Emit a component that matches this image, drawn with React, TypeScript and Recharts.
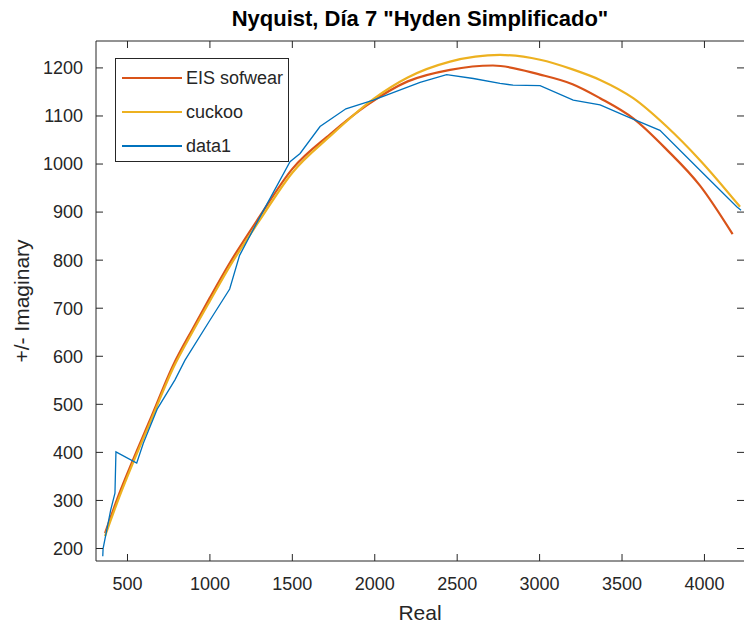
import React from 'react';
import { LineChart, Line, XAxis, YAxis, ReferenceLine, Legend } from 'recharts';

// Fitted model from the EIS software
const EIS_REAL = [364, 450, 527, 637, 778, 900, 1000, 1122, 1300, 1500, 1729, 1951, 2200, 2457, 2717, 3003, 3200, 3367, 3568, 3771, 3973, 4171];
const EIS_IMAG = [232, 314, 379, 468, 582, 660, 722, 795, 890, 990, 1062, 1122, 1172, 1196, 1205, 1186, 1166, 1137, 1095, 1030, 955, 854];

// Cuckoo-search fit
const CUCKOO_REAL = [364, 450, 527, 637, 778, 900, 1000, 1122, 1300, 1500, 1729, 1991, 2200, 2457, 2760, 3003, 3200, 3367, 3568, 3771, 3973, 4216];
const CUCKOO_IMAG = [226, 307, 373, 462, 576, 654, 715, 788, 882, 982, 1058, 1135, 1180, 1213, 1227, 1217, 1197, 1175, 1137, 1078, 1008, 911];

// Measured spectrum
const DATA1_REAL = [350, 352, 398, 424, 430, 556, 596, 680, 788, 849, 1000, 1120, 1180, 1304, 1486, 1547, 1668, 1825, 1991, 2275, 2436, 2598, 2760, 2839, 3003, 3204, 3367, 3528, 3730, 3973, 4196, 4222];
const DATA1_IMAG = [184, 200, 280, 315, 401, 378, 419, 490, 551, 592, 675, 740, 810, 890, 1005, 1022, 1078, 1115, 1133, 1170, 1186, 1178, 1168, 1164, 1163, 1133, 1123, 1099, 1070, 987, 911, 904];

const X_TICKS = [500, 1000, 1500, 2000, 2500, 3000, 3500, 4000];
const Y_TICKS = [200, 300, 400, 500, 600, 700, 800, 900, 1000, 1100, 1200];
const X_DOMAIN: [number, number] = [309, 4240];
const Y_DOMAIN: [number, number] = [174, 1256];

const zip = (xs: number[], ys: number[]) => xs.map((x, i) => ({ x, y: ys[i] }));

const SERIES = [
  { name: 'EIS sofwear', color: '#D95319', width: 2.2, data: zip(EIS_REAL, EIS_IMAG), type: 'monotone' },
  { name: 'cuckoo', color: '#EDB120', width: 2.2, data: zip(CUCKOO_REAL, CUCKOO_IMAG), type: 'monotone' },
  { name: 'data1', color: '#0072BD', width: 1.3, data: zip(DATA1_REAL, DATA1_IMAG), type: 'linear' },
];

const W = 744;
const H = 625;
const PLOT = { left: 96, top: 41, right: 744, bottom: 561 };
const AXIS = '#262626';
const FONT = '"Liberation Sans", Arial, Helvetica, sans-serif';
const TICK_LEN = 7;
const X_GAP = 16;
const Y_GAP = 13;

function XTick(props: any) {
  const { x, y, payload } = props;
  const axisY = y - X_GAP;
  return (
    <g>
      <line x1={x} x2={x} y1={axisY} y2={axisY - TICK_LEN} stroke={AXIS} strokeWidth={1} />
      <line x1={x} x2={x} y1={PLOT.top} y2={PLOT.top + TICK_LEN} stroke={AXIS} strokeWidth={1} />
      <text x={x} y={y} dy="0.71em" textAnchor="middle" fill={AXIS} fontSize={18} fontFamily={FONT}>
        {payload.value}
      </text>
    </g>
  );
}

function YTick(props: any) {
  const { x, y, payload } = props;
  const axisX = x + Y_GAP;
  return (
    <g>
      <line x1={axisX} x2={axisX + TICK_LEN} y1={y} y2={y} stroke={AXIS} strokeWidth={1} />
      <line x1={PLOT.right - TICK_LEN} x2={PLOT.right} y1={y} y2={y} stroke={AXIS} strokeWidth={1} />
      <text x={x} y={y} dy="0.355em" textAnchor="end" fill={AXIS} fontSize={18} fontFamily={FONT}>
        {payload.value}
      </text>
    </g>
  );
}

function LegendBox(props: any) {
  const payload = props.payload || [];
  return (
    <div
      style={{
        width: 174,
        height: 104,
        border: `1px solid ${AXIS}`,
        background: '#fff',
        boxSizing: 'border-box',
        position: 'relative',
        fontFamily: FONT,
        fontSize: 18,
        color: AXIS,
      }}
    >
      {payload.map((p: any, i: number) => (
        <div key={p.value} style={{ position: 'absolute', left: 0, top: 18.5 + i * 34, width: '100%' }}>
          <div style={{ position: 'absolute', left: 6, top: -1, width: 60, height: 2, background: p.color }} />
          <div style={{ position: 'absolute', left: 70, top: -11, lineHeight: '22px', whiteSpace: 'nowrap' }}>
            {p.value}
          </div>
        </div>
      ))}
    </div>
  );
}

export default function App() {
  return (
    <div style={{ position: 'absolute', left: 0, top: 0, width: W, height: H, background: '#fff', overflow: 'hidden' }}>
      <div
        style={{
          position: 'absolute',
          left: PLOT.left,
          width: PLOT.right - PLOT.left,
          top: 8,
          textAlign: 'center',
          fontFamily: FONT,
          fontWeight: 'bold',
          fontSize: 22,
          lineHeight: '22px',
          color: '#000',
          whiteSpace: 'nowrap',
        }}
      >
        Nyquist, Día 7 "Hyden Simplificado"
      </div>
      <div
        style={{
          position: 'absolute',
          left: PLOT.left,
          width: PLOT.right - PLOT.left,
          top: 602,
          textAlign: 'center',
          fontFamily: FONT,
          fontSize: 21,
          lineHeight: '21px',
          color: AXIS,
        }}
      >
        Real
      </div>
      <div
        style={{
          position: 'absolute',
          left: 21,
          top: (PLOT.top + PLOT.bottom) / 2,
          transform: 'translate(-50%, -50%) rotate(-90deg)',
          fontFamily: FONT,
          fontSize: 21,
          lineHeight: '21px',
          color: AXIS,
          whiteSpace: 'nowrap',
        }}
      >
        +/- Imaginary
      </div>
      <div style={{ position: 'absolute', left: 0, top: 0 }}>
        <LineChart width={W} height={H} margin={{ top: PLOT.top, right: W - PLOT.right, bottom: 0, left: 0 }}>
          <XAxis
            dataKey="x"
            type="number"
            domain={X_DOMAIN}
            ticks={X_TICKS}
            allowDataOverflow
            height={H - PLOT.bottom}
            tickLine={false}
            tickSize={0}
            tickMargin={X_GAP}
            tick={<XTick />}
            axisLine={{ stroke: AXIS, strokeWidth: 1 }}
          />
          <YAxis
            dataKey="y"
            type="number"
            domain={Y_DOMAIN}
            ticks={Y_TICKS}
            allowDataOverflow
            width={PLOT.left}
            tickLine={false}
            tickSize={0}
            tickMargin={Y_GAP}
            tick={<YTick />}
            axisLine={{ stroke: AXIS, strokeWidth: 1 }}
          />
          <ReferenceLine y={Y_DOMAIN[1]} stroke={AXIS} strokeWidth={1} />
          {SERIES.map((s) => (
            <Line
              key={s.name}
              name={s.name}
              data={s.data}
              dataKey="y"
              type={s.type as any}
              stroke={s.color}
              strokeWidth={s.width}
              dot={false}
              activeDot={false}
              isAnimationActive={false}
            />
          ))}
          <Legend
            layout="horizontal"
            verticalAlign="middle"
            align="center"
            content={<LegendBox />}
            wrapperStyle={{ left: 115, top: 58, width: 174, height: 104 }}
          />
        </LineChart>
      </div>
    </div>
  );
}
